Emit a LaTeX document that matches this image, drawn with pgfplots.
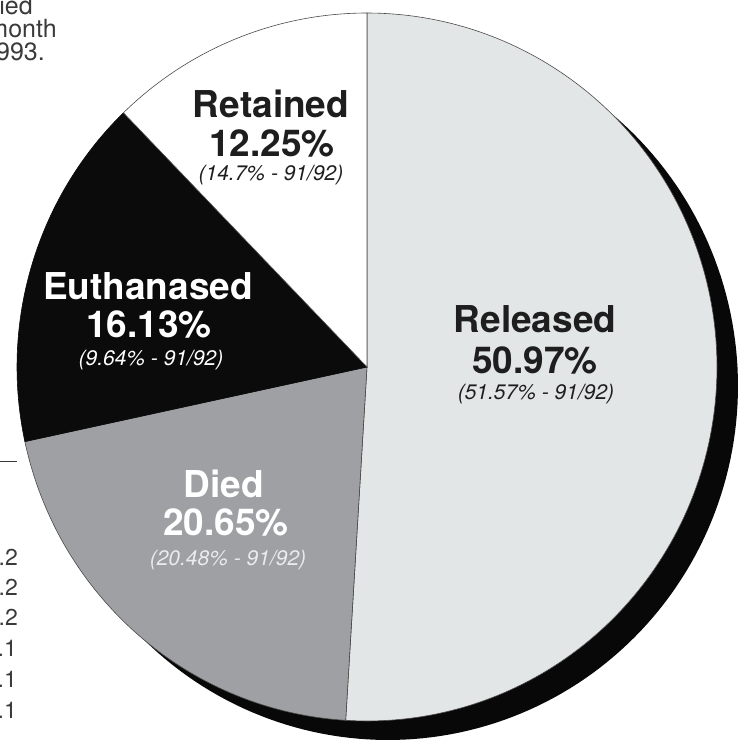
\documentclass[border=0pt]{standalone}
\usepackage{fontspec}
\setmainfont{TeX Gyre Heros}
\usepackage{pgfplots}
\usepackage{pgfplotstable}
\pgfplotsset{compat=1.18}
\definecolor{relc}{HTML}{E3E6E6}
\definecolor{diedc}{HTML}{9EA0A4}
\definecolor{euthc}{HTML}{0B0B0B}
\definecolor{retc}{HTML}{FFFFFF}
\definecolor{shadowc}{HTML}{080808}
\definecolor{edgec}{HTML}{4A4A4A}
\definecolor{darktext}{HTML}{1E1E1E}
\definecolor{sidetext}{HTML}{3A3A3A}

\pgfplotstableread{
label value prev
Released 50.97 51.57
Died 20.65 20.48
Euthanased 16.13 9.64
Retained 12.25 14.7
}\piedata

\newcommand\bigf{\fontsize{37}{40}\selectfont\bfseries}
\newcommand\subf{\fontsize{21}{24}\selectfont\itshape}
\newcommand\sidef{\fontsize{25}{28}\selectfont}
\newcommand\numf{\fontsize{23}{26}\selectfont}

\begin{document}
\begin{tikzpicture}
\def\cx{367}\def\cy{377}\def\rx{350}\def\ry{354}
\def\sx{21}\def\sy{19}
\pgfplotstablegetelem{0}{value}\of\piedata \let\vA\pgfplotsretval
\pgfplotstablegetelem{1}{value}\of\piedata \let\vB\pgfplotsretval
\pgfplotstablegetelem{2}{value}\of\piedata \let\vC\pgfplotsretval
\pgfplotstablegetelem{3}{value}\of\piedata \let\vD\pgfplotsretval
\pgfmathsetmacro\aA{90}
\pgfmathsetmacro\aB{\aA-3.6*\vA}
\pgfmathsetmacro\aC{\aB-3.6*\vB}
\pgfmathsetmacro\aD{\aC-3.6*\vC}
\pgfmathsetmacro\aE{\aD-3.6*\vD}
\begin{axis}[name=ax, x=1pt, y=1pt, xmin=0, xmax=745, ymin=0, ymax=744,
  axis lines=none, clip=true]
% shadow
\addplot[fill=shadowc, draw=none, domain=0:360, samples=240, variable=\t]
  ({\cx+\sx+\rx*cos(\t)},{\cy-\sy+\ry*sin(\t)}) -- cycle;
% slices
\addplot[fill=relc, draw=edgec, line width=0.6pt, domain=\aB:\aA, samples=160, variable=\t]
  ({\cx+\rx*cos(\t)},{\cy+\ry*sin(\t)}) -- (axis cs:\cx,\cy) -- cycle;
\addplot[fill=diedc, draw=edgec, line width=0.6pt, domain=\aC:\aB, samples=80, variable=\t]
  ({\cx+\rx*cos(\t)},{\cy+\ry*sin(\t)}) -- (axis cs:\cx,\cy) -- cycle;
\addplot[fill=euthc, draw=euthc, line width=0.6pt, domain=\aD:\aC, samples=70, variable=\t]
  ({\cx+\rx*cos(\t)},{\cy+\ry*sin(\t)}) -- (axis cs:\cx,\cy) -- cycle;
\addplot[fill=retc, draw=edgec, line width=0.6pt, domain=\aE:\aD, samples=60, variable=\t]
  ({\cx+\rx*cos(\t)},{\cy+\ry*sin(\t)}) -- (axis cs:\cx,\cy) -- cycle;

% labels
\node[anchor=base, text=darktext, inner sep=0pt] at (axis cs:535,{744-333}) {\bigf Released};
\node[anchor=base, text=darktext, inner sep=0pt] at (axis cs:535,{744-374}) {\bigf 50.97\%};
\node[anchor=base, text=darktext, inner sep=0pt] at (axis cs:536,{744-400}) {\subf (51.57\% - 91/92)};

\node[anchor=base, text=darktext, inner sep=0pt] at (axis cs:271,{744-118}) {\bigf Retained};
\node[anchor=base, text=darktext, inner sep=0pt] at (axis cs:272,{744-157}) {\bigf 12.25\%};
\node[anchor=base, text=darktext, inner sep=0pt] at (axis cs:271,{744-181}) {\subf (14.7\% - 91/92)};

\node[anchor=base, text=white, inner sep=0pt] at (axis cs:148,{744-300}) {\bigf Euthanased};
\node[anchor=base, text=white, inner sep=0pt] at (axis cs:149,{744-338}) {\bigf 16.13\%};
\node[anchor=base, text=white, inner sep=0pt] at (axis cs:151,{744-366}) {\subf (9.64\% - 91/92)};

\node[anchor=base, text=white, inner sep=0pt] at (axis cs:224,{744-498}) {\bigf Died};
\node[anchor=base, text=white, inner sep=0pt] at (axis cs:226,{744-536}) {\bigf 20.65\%};
\node[anchor=base, text=white!92!black, inner sep=0pt] at (axis cs:228,{744-566}) {\subf (20.48\% - 91/92)};

% cropped side text
\node[anchor=base east, text=sidetext, inner sep=0pt] at (axis cs:33,{744-15}) {\sidef died};
\node[anchor=base east, text=sidetext, inner sep=0pt] at (axis cs:57,{744-38}) {\sidef month};
\node[anchor=base east, text=sidetext, inner sep=0pt] at (axis cs:45,{744-61}) {\sidef 1993.};
\draw[sidetext, line width=1pt] (axis cs:-5,{744-462}) -- (axis cs:17,{744-462});
\node[anchor=base east, text=sidetext, inner sep=0pt] at (axis cs:18,{744-566}) {\numf 0.2};
\node[anchor=base east, text=sidetext, inner sep=0pt] at (axis cs:18,{744-596}) {\numf 0.2};
\node[anchor=base east, text=sidetext, inner sep=0pt] at (axis cs:18,{744-626}) {\numf 0.2};
\node[anchor=base east, text=sidetext, inner sep=0pt] at (axis cs:17,{744-657}) {\numf 0.1};
\node[anchor=base east, text=sidetext, inner sep=0pt] at (axis cs:17,{744-688}) {\numf 0.1};
\node[anchor=base east, text=sidetext, inner sep=0pt] at (axis cs:17,{744-719}) {\numf 0.1};
\end{axis}
\pgfresetboundingbox
\path[use as bounding box] (ax.south west) rectangle (ax.north east);
\end{tikzpicture}
\end{document}
